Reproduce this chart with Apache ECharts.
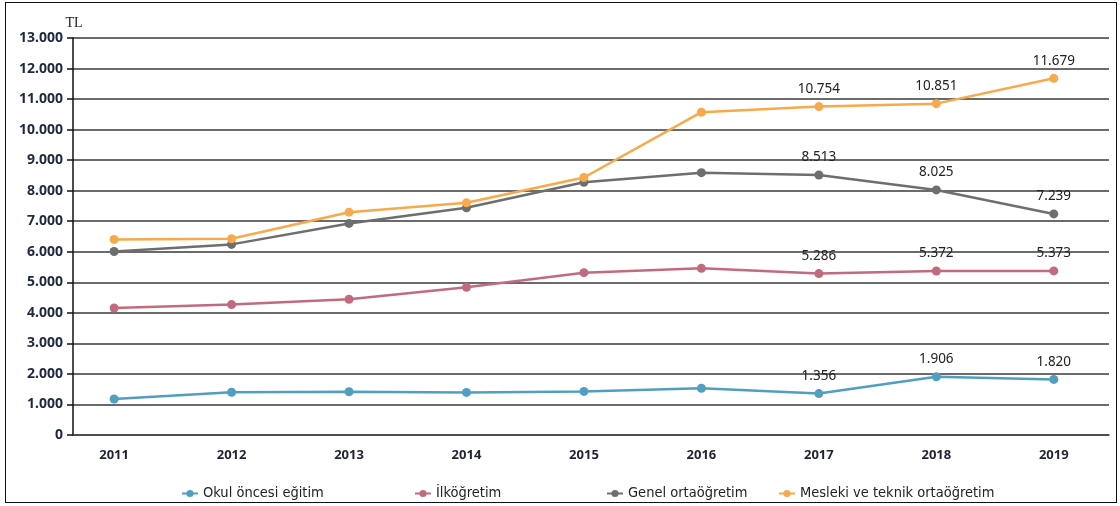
<!DOCTYPE html>
<html>
<head>
<meta charset="utf-8">
<script src="https://cdn.jsdelivr.net/npm/echarts@6/dist/echarts.min.js"></script>
<style>
  html, body { margin: 0; padding: 0; background: #fff; }
  #frame { position: absolute; left: 5px; top: 2px; width: 1110px; height: 499px; border: 1.5px solid #111; }
  #chart { position: absolute; left: 0; top: 0; width: 1120px; height: 506px; }
</style>
</head>
<body>
<div id="frame"></div>
<div id="chart"></div>
<script>
  var years = [2011, 2012, 2013, 2014, 2015, 2016, 2017, 2018, 2019];
  var okulOncesi = [1180, 1400, 1415, 1395, 1427, 1530, 1356, 1906, 1820];
  var ilkogretim = [4160, 4270, 4445, 4837, 5316, 5457, 5286, 5372, 5373];
  var genelOrta = [6010, 6242, 6928, 7440, 8278, 8590, 8513, 8025, 7239];
  var meslekiTeknik = [6405, 6428, 7297, 7603, 8431, 10570, 10754, 10851, 11679];
  var labelledYears = [2017, 2018, 2019];

  var names = ['Okul öncesi eğitim', 'İlköğretim', 'Genel ortaöğretim', 'Mesleki ve teknik ortaöğretim'];
  var colors = ['#519fc0', '#c26b7e', '#6e6e6e', '#f7a94b'];
  var legendLeft = [176, 409, 601, 773];

  function fmt(v) {
    return String(v).replace(/\B(?=(\d{3})+(?!\d))/g, '.');
  }

  function points(values) {
    return values.map(function (v, i) {
      return {
        value: [years[i], v],
        label: { show: labelledYears.indexOf(years[i]) >= 0 }
      };
    });
  }

  var chart = echarts.init(document.getElementById('chart'));
  var seriesData = [okulOncesi, ilkogretim, genelOrta, meslekiTeknik];

  chart.setOption({
    animation: false,
    color: colors,
    grid: { left: 73, right: 11, top: 38, bottom: 71 },
    legend: names.map(function (n, i) {
      return {
        data: [n],
        left: legendLeft[i],
        top: 481,
        itemWidth: 16,
        itemHeight: 9,
        itemGap: 5,
        textStyle: { fontFamily: 'DejaVu Sans Condensed', fontSize: 14.5, color: '#222' }
      };
    }),
    xAxis: {
      type: 'value',
      min: 2010.65,
      max: 2019.47,
      axisLine: { show: true, lineStyle: { color: '#444', width: 1.5 } },
      axisTick: { show: false },
      splitLine: { show: false },
      axisLabel: {
        customValues: years,
        margin: 14,
        fontFamily: 'Noto Sans',
        fontWeight: 'bold',
        fontSize: 13,
        color: '#1e2233',
        formatter: function (v) { return String(v); }
      }
    },
    yAxis: {
      type: 'value',
      min: 0,
      max: 13000,
      interval: 1000,
      name: 'TL',
      nameLocation: 'end',
      nameGap: 8,
      nameTextStyle: { fontFamily: 'Liberation Serif', fontSize: 14, color: '#222', align: 'center', padding: [0, 0, 0, 2] },
      axisLine: { show: true, lineStyle: { color: '#111', width: 1.5 } },
      axisTick: { show: true, length: 6, lineStyle: { color: '#111', width: 1.5 } },
      splitLine: { lineStyle: { color: '#3a3a3a', width: 1.5 } },
      axisLabel: {
        margin: 10,
        fontFamily: 'Noto Sans',
        fontWeight: 'bold',
        fontSize: 14,
        color: '#1e2840',
        formatter: function (v) { return fmt(v); }
      }
    },
    series: seriesData.map(function (vals, i) {
      return {
        name: names[i],
        type: 'line',
        data: points(vals),
        symbol: 'circle',
        symbolSize: 9,
        lineStyle: { width: 2.5, color: colors[i] },
        itemStyle: { color: colors[i] },
        label: {
          position: 'top',
          distance: 6,
          fontFamily: 'Noto Sans',
          fontSize: 13.5,
          color: '#222',
          formatter: function (p) { return fmt(p.value[1]); }
        }
      };
    })
  });
</script>
</body>
</html>
